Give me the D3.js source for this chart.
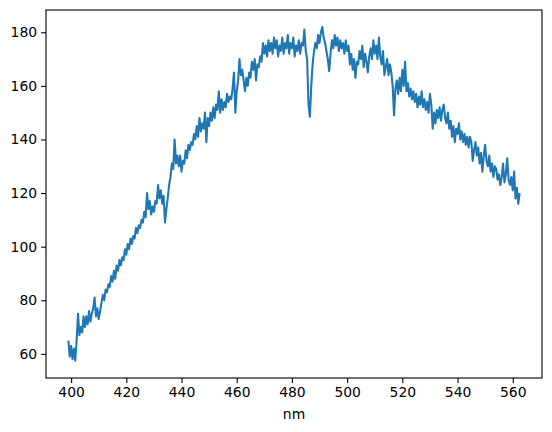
<!DOCTYPE html>
<html>
<head>
<meta charset="utf-8">
<script src="https://cdn.jsdelivr.net/npm/d3@7"></script>
<style>
  body { margin: 0; background: #fff; }
  svg { display: block; }
  .axis text { font-family: "DejaVu Sans", sans-serif; font-size: 13.9px; fill: #000; }
  .axis path, .axis line { stroke: #000; stroke-width: 1.1px; }
</style>
</head>
<body>
<script>
// spectrum, sampled every 0.5 nm starting at 399 nm
var startNm = 399;
var stepNm = 0.5;
var intensity = [
  65, 59, 63, 58, 62, 57.5, 65, 75, 67, 70,
  68, 74, 70, 74, 71, 76, 72, 75, 77, 81,
  74, 77, 73, 76, 79, 82, 80, 84, 83, 86,
  85, 89, 87, 91, 88, 93, 91, 95, 93, 96,
  95, 99, 97, 101, 99, 103, 101, 104, 103, 107,
  105, 108, 107, 110, 109, 113, 111, 120, 114, 117,
  112, 115, 113, 117, 116, 123, 118, 121, 116, 119,
  109, 114, 118, 123, 126, 131, 129, 140, 131, 134,
  130, 134, 128, 132, 131, 136, 133, 138, 136, 139,
  138, 142, 140, 145, 141, 148, 143, 146, 144, 150,
  139, 148, 145, 150, 147, 152, 148, 153, 151, 158,
  150, 155, 151, 154, 152, 157, 154, 156, 155, 159,
  165, 150, 158, 162, 170, 164, 166, 162, 158, 163,
  160, 165, 163, 169, 166, 170, 162, 168, 167, 171,
  169, 176, 172, 175, 171, 177, 173, 176, 172, 178,
  174, 177, 171, 175, 173, 178, 172, 176, 174, 179,
  172, 176, 174, 178, 171, 175, 173, 177, 172, 176,
  175, 181, 173, 170, 153, 148.5, 160, 168, 173, 176,
  174, 179, 176, 180, 182, 178, 176, 173, 170, 165.5,
  172, 177, 174, 179, 175, 178, 173, 177, 174, 176,
  172, 177, 173, 175, 168, 172, 166, 170, 163, 169,
  168, 173, 170, 175, 167, 172, 169, 165, 171, 174,
  170, 177, 172, 175, 170, 178, 171, 168, 173, 164,
  167, 170, 164, 168, 165, 160, 149, 159, 162, 157,
  163, 158, 166, 160, 169, 158, 161, 156, 159, 155,
  158, 154, 157, 152, 156, 153, 158, 152, 155, 151,
  154, 150, 157, 153, 144, 150, 146, 151, 148, 152,
  147, 151, 153, 148, 146, 150, 144, 147, 141, 145,
  139, 144, 142, 146, 140, 143, 139, 142, 138, 141,
  137, 141, 139, 132, 136, 139, 134, 137, 131, 135,
  128, 134, 138, 132, 130, 134, 128, 131, 126, 130,
  129, 125, 127, 123, 126, 131, 124, 127, 133, 125,
  123, 126, 121, 128, 118, 122, 116, 120
];
var xTicks = [400, 420, 440, 460, 480, 500, 520, 540, 560];
var yTicks = [60, 80, 100, 120, 140, 160, 180];

var data = intensity.map(function(v, i) { return {nm: startNm + i * stepNm, y: v}; });

var W = 552, H = 432;
var margin = {top: 10, right: 10, bottom: 54, left: 46};
var width = W - margin.left - margin.right;
var height = H - margin.top - margin.bottom;

var xScale = d3.scaleLinear().domain([390.9, 570.6]).range([0, width]);
var yScale = d3.scaleLinear().domain([51.0, 188.3]).range([height, 0]);

var line = d3.line()
  .x(function(d) { return xScale(d.nm); })
  .y(function(d) { return yScale(d.y); });

var svg = d3.select("body").append("svg")
  .attr("width", W)
  .attr("height", H)
  .append("g")
  .attr("transform", "translate(" + margin.left + "," + margin.top + ")");

svg.append("path")
  .datum(data)
  .attr("fill", "none")
  .attr("stroke", "#1f77b4")
  .attr("stroke-width", 2.08)
  .attr("stroke-linejoin", "round")
  .attr("d", line);

svg.append("g")
  .attr("class", "x axis")
  .attr("transform", "translate(0," + height + ")")
  .call(d3.axisBottom(xScale).tickValues(xTicks).tickSize(4.9).tickPadding(4).tickSizeOuter(0));
svg.append("g")
  .attr("class", "y axis")
  .call(d3.axisLeft(yScale).tickValues(yTicks).tickSize(4.9).tickPadding(4).tickSizeOuter(0));

// frame
svg.append("rect")
  .attr("width", width)
  .attr("height", height)
  .attr("fill", "none")
  .attr("stroke", "#000")
  .attr("stroke-width", 1.1);

svg.selectAll(".axis .domain").remove();

// axis label
svg.append("text")
  .attr("x", width / 2)
  .attr("y", height + 41)
  .attr("text-anchor", "middle")
  .style("font-family", "DejaVu Sans, sans-serif")
  .style("font-size", "13.9px")
  .text("nm");
</script>
</body>
</html>
